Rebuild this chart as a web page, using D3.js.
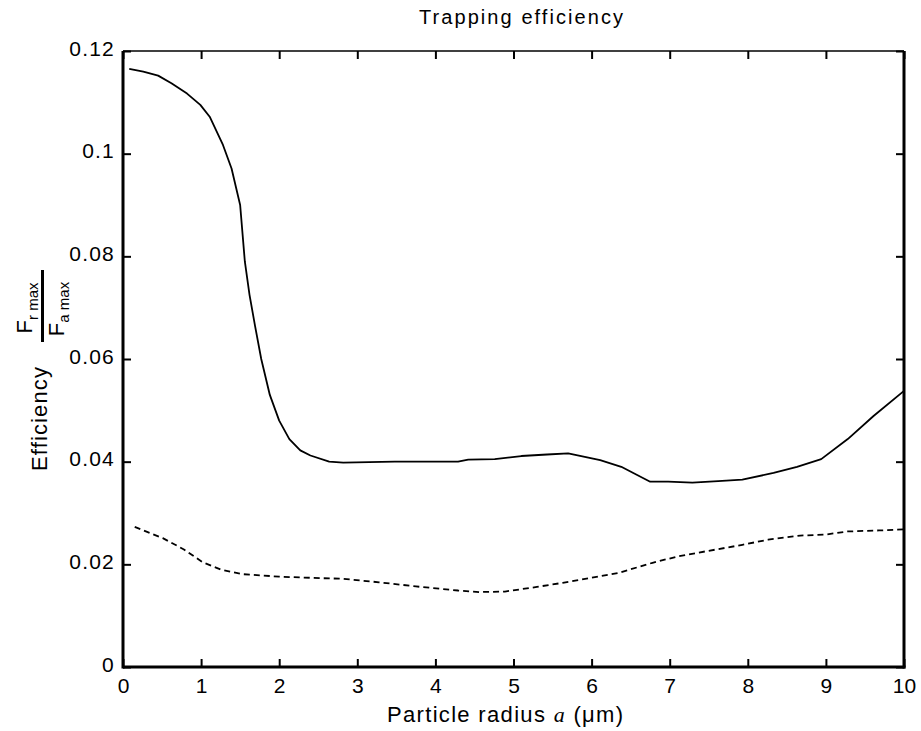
<!DOCTYPE html>
<html>
<head>
<meta charset="utf-8">
<script src="https://cdn.jsdelivr.net/npm/d3@7"></script>
<style>
  html, body { margin: 0; padding: 0; background: #fff; }
  svg { display: block; }
  text { font-family: "Liberation Sans", Arial, Helvetica, sans-serif; fill: #000; }
</style>
</head>
<body>
<svg id="chart" width="921" height="731"></svg>
<script>
// ---- data ----
const xTicks = [0, 1, 2, 3, 4, 5, 6, 7, 8, 9, 10];
const yTicks = [0, 0.02, 0.04, 0.06, 0.08, 0.1, 0.12];
const yTickLabels = ["0", "0.02", "0.04", "0.06", "0.08", "0.1", "0.12"];

const solidX = [0.08, 0.26, 0.45, 0.62, 0.82, 0.99, 1.11, 1.28, 1.39, 1.50, 1.56, 1.62, 1.69, 1.77, 1.88, 2.0, 2.13, 2.27, 2.40, 2.64, 2.82, 3.48, 4.29, 4.42, 4.76, 5.10, 5.43, 5.70, 6.11, 6.38, 6.75, 6.98, 7.29, 7.62, 7.93, 8.33, 8.63, 8.94, 9.28, 9.61, 10.0];
const solidY = [0.1165, 0.1160, 0.1152, 0.1137, 0.1117, 0.1095, 0.1072, 0.1017, 0.0971, 0.0900, 0.0790, 0.0725, 0.0665, 0.0600, 0.0530, 0.0480, 0.0444, 0.0422, 0.0412, 0.0400, 0.0398, 0.0400, 0.0400, 0.0404, 0.0405, 0.0411, 0.0414, 0.0416, 0.0403, 0.0390, 0.0361, 0.0361, 0.0359, 0.0362, 0.0365, 0.0378, 0.0390, 0.0405, 0.0444, 0.0489, 0.0538];

const dashedX = [0.15, 0.51, 0.78, 1.02, 1.25, 1.52, 2.0, 2.54, 2.80, 3.28, 3.75, 4.29, 4.56, 4.89, 5.30, 5.63, 5.97, 6.34, 6.78, 7.12, 7.45, 7.93, 8.26, 8.67, 9.0, 9.27, 9.68, 10.0];
const dashedY = [0.0273, 0.0251, 0.0229, 0.0204, 0.0190, 0.0181, 0.0176, 0.0173, 0.0172, 0.0165, 0.0157, 0.0149, 0.0146, 0.0147, 0.0156, 0.0164, 0.0173, 0.0183, 0.0203, 0.0216, 0.0225, 0.0238, 0.0248, 0.0256, 0.0258, 0.0264, 0.0266, 0.0268];

const titleText = "Trapping efficiency";

// ---- layout ----
const pLeft = 123, pRight = 904, pTop = 51, pBottom = 667;
const svg = d3.select("#chart");
const x = d3.scaleLinear().domain([0, 10]).range([pLeft, pRight]);
const y = d3.scaleLinear().domain([0, 0.12]).range([pBottom, pTop]);

// ---- lines ----
const line = d3.line().x(d => x(d[0])).y(d => y(d[1]));
svg.append("path")
  .datum(solidX.map((v, i) => [v, solidY[i]]))
  .attr("d", line).attr("fill", "none").attr("stroke", "#000")
  .attr("stroke-width", 1.8).attr("stroke-linejoin", "round");
svg.append("path")
  .datum(dashedX.map((v, i) => [v, dashedY[i]]))
  .attr("d", line).attr("fill", "none").attr("stroke", "#000")
  .attr("stroke-width", 1.8).attr("stroke-dasharray", "6,4");

// ---- axes ----
const tickLen = 8;
const axBottom = svg.append("g").attr("transform", `translate(0,${pBottom})`)
  .call(d3.axisBottom(x).tickValues(xTicks).tickSize(-tickLen).tickPadding(tickLen + 3).tickFormat(d3.format("d")));
const axTop = svg.append("g").attr("transform", `translate(0,${pTop})`)
  .call(d3.axisTop(x).tickValues(xTicks).tickSize(-tickLen).tickFormat(""));
const axLeft = svg.append("g").attr("transform", `translate(${pLeft},0)`)
  .call(d3.axisLeft(y).tickValues(yTicks).tickSize(-tickLen).tickPadding(8)
    .tickFormat((d, i) => yTickLabels[i]));
const axRight = svg.append("g").attr("transform", `translate(${pRight},0)`)
  .call(d3.axisRight(y).tickValues(yTicks).tickSize(-tickLen).tickFormat(""));

[axBottom, axTop, axLeft, axRight].forEach(g => {
  g.select(".domain").remove();
  g.selectAll(".tick line").attr("stroke", "#000").attr("stroke-width", 2);
});
axBottom.selectAll(".tick text").attr("font-size", 21).attr("dy", "0.71em");
axLeft.selectAll(".tick text").attr("font-size", 21).attr("letter-spacing", 1.2).attr("dy", "0.2em");

// frame
svg.append("line").attr("x1", pLeft).attr("x2", pRight).attr("y1", pTop).attr("y2", pTop)
  .attr("stroke", "#000").attr("stroke-width", 1.5);
svg.append("line").attr("x1", pLeft).attr("x2", pRight + 1.5).attr("y1", pBottom).attr("y2", pBottom)
  .attr("stroke", "#000").attr("stroke-width", 3);
svg.append("line").attr("x1", pLeft).attr("x2", pLeft).attr("y1", pTop).attr("y2", pBottom + 1.5)
  .attr("stroke", "#000").attr("stroke-width", 3);
svg.append("line").attr("x1", pRight).attr("x2", pRight).attr("y1", pTop).attr("y2", pBottom + 1.5)
  .attr("stroke", "#000").attr("stroke-width", 3);

// ---- title ----
svg.append("text").attr("x", 521).attr("y", 24).attr("text-anchor", "middle")
  .attr("font-size", 20).attr("textLength", 204).attr("lengthAdjust", "spacing")
  .text(titleText);

// ---- x label ----
const xl = svg.append("text").attr("x", 505).attr("y", 722).attr("text-anchor", "middle")
  .attr("font-size", 22).attr("textLength", 236).attr("lengthAdjust", "spacing");
xl.append("tspan").text("Particle radius ");
xl.append("tspan").attr("font-style", "italic").attr("font-family", "Liberation Serif, serif").text("a");
xl.append("tspan").text(" (μm)");

// ---- y label ----
svg.append("text").attr("transform", "translate(47,419) rotate(-90)")
  .attr("text-anchor", "middle").attr("font-size", 22)
  .attr("textLength", 104).attr("lengthAdjust", "spacing")
  .text("Efficiency");

const frac = svg.append("g").attr("transform", "translate(42.5,306) rotate(-90)");
frac.append("line").attr("x1", -36).attr("x2", 36).attr("y1", 0).attr("y2", 0)
  .attr("stroke", "#000").attr("stroke-width", 3);
const num = frac.append("text").attr("x", -2).attr("y", -11).attr("text-anchor", "middle").attr("font-size", 22);
num.append("tspan").text("F");
num.append("tspan").attr("font-size", 15).attr("dy", 6).text("r max");
const den = frac.append("text").attr("x", -3).attr("y", 21).attr("text-anchor", "middle").attr("font-size", 22);
den.append("tspan").text("F");
den.append("tspan").attr("font-size", 15).attr("dy", 5).text("a max");
</script>
</body>
</html>
